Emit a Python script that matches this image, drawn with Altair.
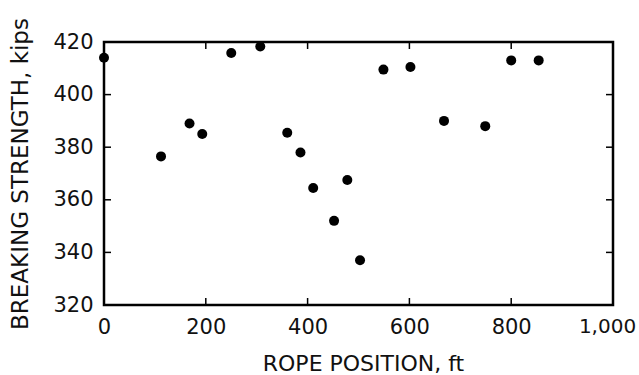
import altair as alt
import pandas as pd

# Data
rope_position = [0, 112, 168, 193, 250, 307, 360, 386, 411, 452, 478, 503, 549, 602, 668, 749, 800, 854]
breaking_strength = [414, 376.5, 389, 385, 415.8, 418.3, 385.5, 378, 364.5, 352, 367.5, 337, 409.5, 410.5, 390, 388, 413, 413]

x_tick_values = [0, 200, 400, 600, 800, 1000]
y_tick_values = [320, 340, 360, 380, 400, 420]
x_inner_ticks = [200, 400, 600, 800]
y_inner_ticks = [340, 360, 380, 400]

W, H = 509, 263
TL = 7
FONT = "DejaVu Sans"

df = pd.DataFrame({"pos": rope_position, "strength": breaking_strength})
xt = pd.DataFrame({"pos": x_inner_ticks})
yt = pd.DataFrame({"strength": y_inner_ticks})

xscale = alt.Scale(domain=[0, 1000], nice=False, zero=False)
yscale = alt.Scale(domain=[320, 420], nice=False, zero=False)

xaxis = alt.Axis(values=x_tick_values, format=",d", title="ROPE POSITION, ft",
                 grid=False, domain=False, ticks=False, labelPadding=11,
                 labelFlush=False, labelOverlap=False,
                 labelFontSize={"condition": {"test": "datum.value == 1000", "value": 20}, "value": 21},
                 labelOffset={"condition": {"test": "datum.value == 1000", "value": -6}, "value": 0},
                 labelFont=FONT, labelColor="#111111",
                 titleFont=FONT, titleFontSize=22, titleFontWeight="normal",
                 titleColor="#111111", titleX=259, titleY=58,
                 titleBaseline="middle", titleAlign="center")
yaxis = alt.Axis(values=y_tick_values, title="BREAKING STRENGTH, kips",
                 grid=False, domain=False, ticks=False, labelPadding=11,
                 labelFlush=False, labelOverlap=False,
                 labelFontSize=21, labelFont=FONT, labelColor="#111111",
                 titleFont=FONT, titleFontSize=23, titleFontWeight="normal",
                 titleColor="#111111", titleX=-84, titleY=131.5, titleAngle=-90,
                 titleBaseline="middle", titleAlign="center")

points = alt.Chart(df).mark_circle(size=100, color="black", opacity=1).encode(
    x=alt.X("pos:Q", scale=xscale, axis=xaxis),
    y=alt.Y("strength:Q", scale=yscale, axis=yaxis),
)

rule_style = dict(color="black", strokeWidth=1.5)

bottom_ticks = alt.Chart(xt).mark_rule(**rule_style).encode(
    x=alt.X("pos:Q", scale=xscale, axis=xaxis), y=alt.value(H), y2=alt.value(H - TL))
top_ticks = alt.Chart(xt).mark_rule(**rule_style).encode(
    x=alt.X("pos:Q", scale=xscale, axis=xaxis), y=alt.value(0), y2=alt.value(TL))
left_ticks = alt.Chart(yt).mark_rule(**rule_style).encode(
    y=alt.Y("strength:Q", scale=yscale, axis=yaxis), x=alt.value(0), x2=alt.value(TL))
right_ticks = alt.Chart(yt).mark_rule(**rule_style).encode(
    y=alt.Y("strength:Q", scale=yscale, axis=yaxis), x=alt.value(W), x2=alt.value(W - TL))

chart = alt.layer(points, bottom_ticks, top_ticks, left_ticks, right_ticks).properties(
    width=W, height=H,
    autosize=alt.AutoSizeParams(type="none"),
    padding={"left": 104, "top": 42, "right": 639 - 104 - W, "bottom": 375 - 42 - H},
    background="white",
).configure_view(stroke="black", strokeWidth=2.5)

chart.save("out.html", embed_options={"renderer": "svg", "actions": False})
